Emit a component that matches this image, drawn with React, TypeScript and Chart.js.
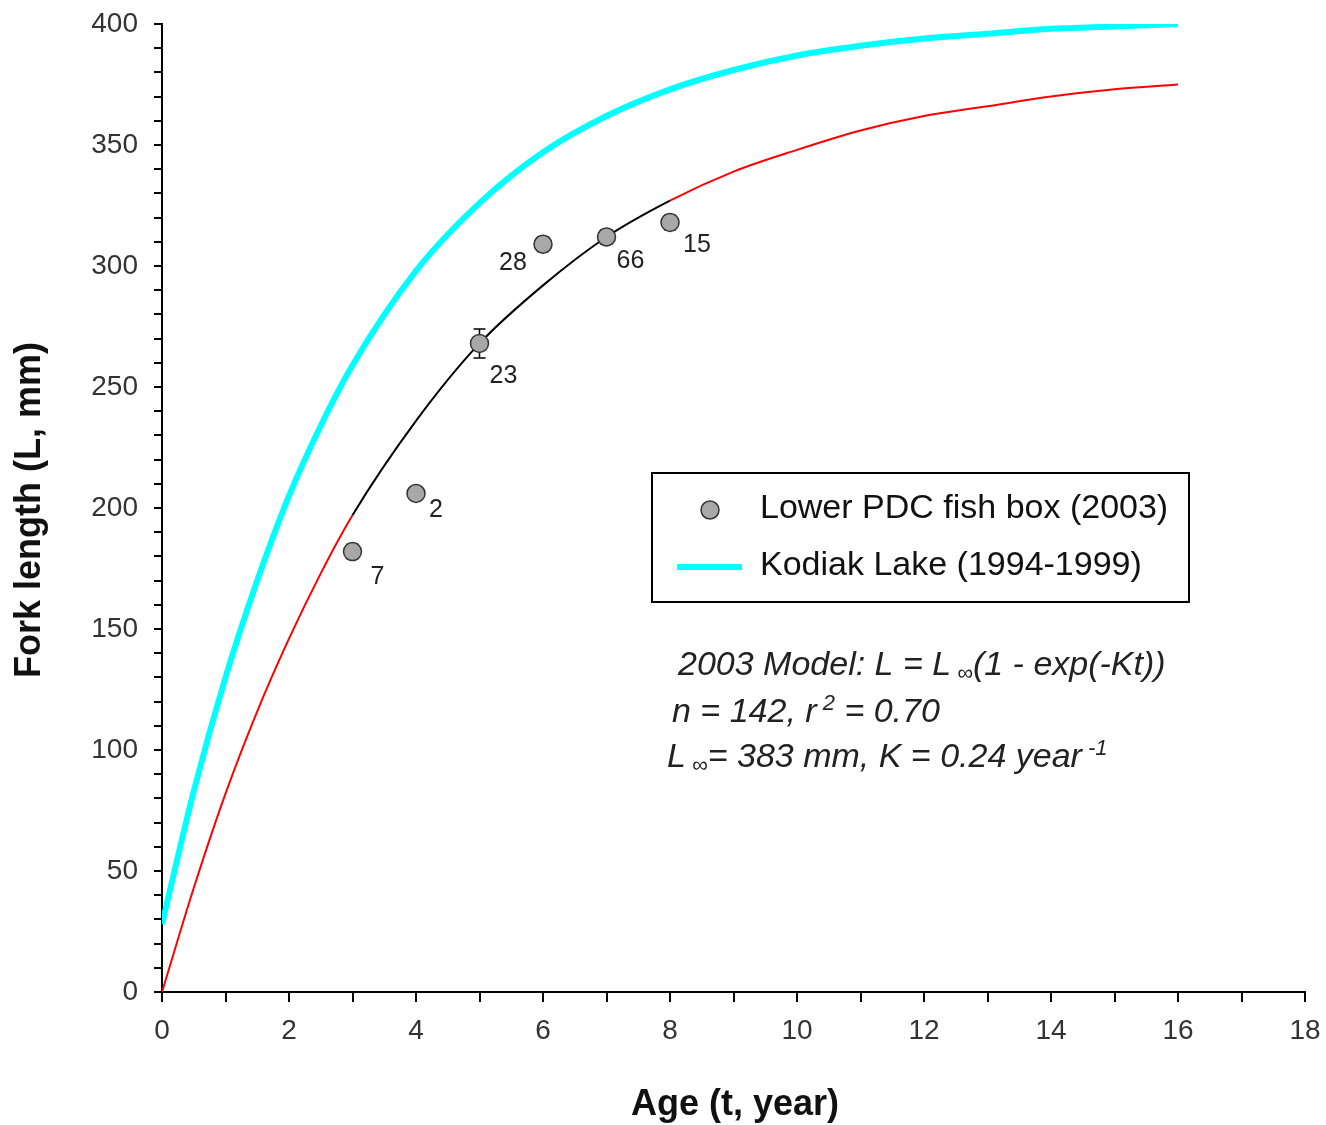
import React, { useEffect, useRef } from "react";
import { Chart, registerables } from "chart.js";

Chart.register(...registerables);

// ---- data ----
const FISH_AGE = [3, 4, 5, 6, 7, 8];
const FISH_LEN = [182, 206, 268, 309, 312, 318];
const FISH_ERR = [3, 0, 6, 3, 3, 3];
const FISH_N = ["7", "2", "23", "28", "66", "15"];

const MODEL_AGE = [0, 0.5, 1, 1.5, 2, 2.5, 3, 4, 5, 6, 7, 8, 9, 10, 11, 12, 13, 14, 15, 16];
const MODEL_LEN = [0, 43, 82, 116, 146, 173, 197, 236, 268, 292, 312, 327, 339, 348, 356, 362, 366, 370, 373, 375];

const KODIAK_AGE = [0, 0.5, 1, 1.5, 2, 2.5, 3, 4, 5, 6, 7, 8, 9, 10, 11, 12, 13, 14, 15, 16];
const KODIAK_LEN = [28, 83, 130, 170, 205, 234, 259, 298, 326, 347, 362, 373, 381, 387, 391, 394, 396, 398, 399, 400];

const X_TICK_LABELS = ["0", "2", "4", "6", "8", "10", "12", "14", "16", "18"];
const Y_TICK_LABELS = ["0", "50", "100", "150", "200", "250", "300", "350", "400"];

const FONT = "'Liberation Sans', Arial, sans-serif";

type Run = { t: string; size: number; dy?: number };

function drawRuns(ctx: CanvasRenderingContext2D, x: number, y: number, runs: Run[], style: string) {
  let cx = x;
  for (const r of runs) {
    ctx.font = `${style} ${r.size}px ${FONT}`;
    ctx.fillText(r.t, cx, y + (r.dy || 0));
    cx += ctx.measureText(r.t).width;
  }
}

const labelOffsets = [
  [25, 26],
  [20, 17],
  [24, 33],
  [-30, 19],
  [24, 24],
  [27, 23],
];

const decorPlugin = {
  id: "decor",
  beforeDatasetDraw(chart: any, args: any) {
    if (args.index !== 0) return;
    const ctx = chart.ctx;
    const xs = chart.scales.x;
    const ys = chart.scales.y;
    ctx.save();
    ctx.strokeStyle = "#000";
    ctx.lineWidth = 1.5;
    FISH_AGE.forEach((a, i) => {
      const e = FISH_ERR[i];
      if (!e) return;
      const px = xs.getPixelForValue(a);
      const y1 = ys.getPixelForValue(FISH_LEN[i] + e);
      const y2 = ys.getPixelForValue(FISH_LEN[i] - e);
      ctx.beginPath();
      ctx.moveTo(px, y1);
      ctx.lineTo(px, y2);
      ctx.moveTo(px - 6, y1);
      ctx.lineTo(px + 6, y1);
      ctx.moveTo(px - 6, y2);
      ctx.lineTo(px + 6, y2);
      ctx.stroke();
    });
    ctx.restore();
  },
  afterDraw(chart: any) {
    const ctx = chart.ctx;
    const xs = chart.scales.x;
    const ys = chart.scales.y;
    ctx.save();
    ctx.fillStyle = "#222";
    ctx.textBaseline = "middle";
    ctx.textAlign = "center";
    ctx.font = `25px ${FONT}`;
    FISH_AGE.forEach((a, i) => {
      const px = xs.getPixelForValue(a) + labelOffsets[i][0];
      const py = ys.getPixelForValue(FISH_LEN[i]) + labelOffsets[i][1];
      ctx.fillText(FISH_N[i], px, py);
    });

    // axis titles
    ctx.fillStyle = "#111";
    ctx.font = `bold 36px ${FONT}`;
    ctx.fillText("Age (t, year)", 735, 1105);
    ctx.save();
    ctx.translate(30, 510);
    ctx.rotate(-Math.PI / 2);
    ctx.fillText("Fork length (L, mm)", 0, 0);
    ctx.restore();

    // legend
    ctx.fillStyle = "#fff";
    ctx.fillRect(652, 473, 537, 129);
    ctx.strokeStyle = "#000";
    ctx.lineWidth = 2;
    ctx.strokeRect(652, 473, 537, 129);
    ctx.beginPath();
    ctx.arc(710, 510, 9, 0, Math.PI * 2);
    ctx.fillStyle = "#a8a8a8";
    ctx.fill();
    ctx.strokeStyle = "#333";
    ctx.lineWidth = 1.5;
    ctx.stroke();
    ctx.strokeStyle = "#00ffff";
    ctx.lineWidth = 6;
    ctx.beginPath();
    ctx.moveTo(677, 567);
    ctx.lineTo(742, 567);
    ctx.stroke();
    ctx.fillStyle = "#111";
    ctx.textAlign = "left";
    ctx.font = `34px ${FONT}`;
    ctx.fillText("Lower PDC fish box (2003)", 760, 509);
    ctx.fillText("Kodiak Lake (1994-1999)", 760, 566);

    // model annotation
    ctx.textBaseline = "alphabetic";
    ctx.fillStyle = "#222";
    drawRuns(ctx, 678, 675, [
      { t: "2003 Model: L = L", size: 34 },
      { t: " \u221e", size: 22, dy: 5 },
      { t: "(1 - exp(-Kt))", size: 34 },
    ], "italic");
    drawRuns(ctx, 672, 722, [
      { t: "n = 142, r", size: 34 },
      { t: " 2", size: 22, dy: -12 },
      { t: " = 0.70", size: 34 },
    ], "italic");
    drawRuns(ctx, 667, 767, [
      { t: "L", size: 34 },
      { t: " \u221e", size: 22, dy: 5 },
      { t: "= 383 mm, K = 0.24 year", size: 34 },
      { t: " -1", size: 22, dy: -12 },
    ], "italic");
    ctx.restore();
  },
};

export default function App() {
  const ref = useRef<HTMLCanvasElement | null>(null);
  useEffect(() => {
    if (!ref.current) return;
    const chart = new Chart(ref.current, {
      type: "line",
      data: {
        datasets: [
          {
            type: "scatter",
            label: "Lower PDC fish box (2003)",
            data: FISH_AGE.map((a, i) => ({ x: a, y: FISH_LEN[i] })),
            backgroundColor: "#a8a8a8",
            borderColor: "#333",
            borderWidth: 1.5,
            pointRadius: 9,
            pointHoverRadius: 9,
          } as any,
          {
            label: "2003 model",
            data: MODEL_AGE.map((a, i) => ({ x: a, y: MODEL_LEN[i] })),
            borderColor: "#ff0000",
            borderWidth: 2,
            pointRadius: 0,
            cubicInterpolationMode: "monotone",
            segment: {
              borderColor: (c: any) => (c.p0.parsed.x >= 3 && c.p1.parsed.x <= 8 ? "#000" : "#ff0000"),
            },
          },
          {
            label: "Kodiak Lake (1994-1999)",
            data: KODIAK_AGE.map((a, i) => ({ x: a, y: KODIAK_LEN[i] })),
            borderColor: "#00ffff",
            borderWidth: 6,
            pointRadius: 0,
            cubicInterpolationMode: "monotone",
          },
        ],
      },
      options: {
        responsive: false,
        animation: false,
        devicePixelRatio: 1,
        layout: { padding: { left: 0, right: 21, top: 24, bottom: 0 } },
        plugins: { legend: { display: false }, tooltip: { enabled: false } },
        scales: {
          x: {
            type: "linear",
            min: 0,
            max: 18,
            afterFit: (s: any) => {
              s.height = 133;
              s.paddingLeft = 0;
              s.paddingRight = 0;
            },
            afterBuildTicks: (s: any) => {
              const t = [];
              for (let v = 0; v <= 18; v++) t.push({ value: v });
              s.ticks = t;
            },
            ticks: {
              autoSkip: false,
              maxRotation: 0,
              padding: 12,
              color: "#333",
              font: { family: FONT, size: 28 },
              callback: (v: any) => (X_TICK_LABELS.includes(String(v)) ? String(v) : ""),
            },
            grid: { display: true, drawOnChartArea: false, drawTicks: true, tickLength: 10, color: "#000", lineWidth: 2 },
            border: { display: true, color: "#000", width: 2 },
          },
          y: {
            type: "linear",
            min: 0,
            max: 400,
            afterFit: (s: any) => {
              s.width = 162;
              s.paddingTop = 0;
              s.paddingBottom = 0;
            },
            afterBuildTicks: (s: any) => {
              const t = [];
              for (let v = 0; v <= 400; v += 10) t.push({ value: v });
              s.ticks = t;
            },
            ticks: {
              autoSkip: false,
              padding: 16,
              color: "#333",
              font: { family: FONT, size: 28 },
              callback: (v: any) => (Y_TICK_LABELS.includes(String(v)) ? String(v) : ""),
            },
            grid: { display: true, drawOnChartArea: false, drawTicks: true, tickLength: 8, color: "#000", lineWidth: 2 },
            border: { display: true, color: "#000", width: 2 },
          },
        },
      },
      plugins: [decorPlugin],
    } as any);
    return () => chart.destroy();
  }, []);
  return (
    <div style={{ position: "absolute", left: 0, top: 0, width: 1326, height: 1125, background: "#fff" }}>
      <canvas ref={ref} width={1326} height={1125} style={{ width: 1326, height: 1125, display: "block" }} />
    </div>
  );
}
